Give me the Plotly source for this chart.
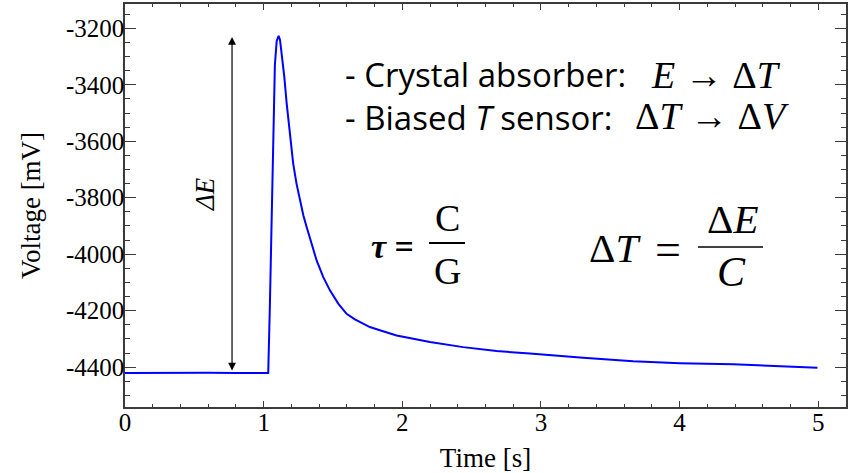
import plotly.graph_objects as go

# ---- data ----
time_s = [0.0, 0.2, 0.4, 0.6, 0.8, 1.0, 1.033, 1.045, 1.058, 1.069, 1.081, 1.094, 1.108,
          1.118, 1.130, 1.149, 1.166, 1.190, 1.213, 1.237, 1.262, 1.286, 1.310, 1.346,
          1.382, 1.430, 1.478, 1.538, 1.598, 1.658, 1.718, 1.766, 1.838, 1.959, 2.079,
          2.199, 2.439, 2.680, 2.920, 3.160, 3.304, 3.665, 4.001, 4.386, 4.746, 4.994]
voltage_mv = [-4421, -4420, -4421, -4420, -4421, -4421, -4421, -4180, -3900, -3600, -3330, -3245, -3227,
              -3241, -3289, -3372, -3466, -3584, -3679, -3750, -3809, -3862, -3904, -3962,
              -4022, -4081, -4128, -4175, -4211, -4231, -4246, -4258, -4269, -4288, -4299,
              -4311, -4329, -4343, -4352, -4362, -4367, -4379, -4386, -4390, -4397, -4402]

y_ticks = [-3200, -3400, -3600, -3800, -4000, -4200, -4400]
y_tick_text = ["-3200", "-3400", "-3600", "-3800", "-4000", "-4200", "-4400"]
x_ticks = [0, 1, 2, 3, 4, 5]
x_tick_text = ["0", "1", "2", "3", "4", "5"]

arrow_t = 0.772
arrow_bottom = -4417
arrow_top = -3231

W, H = 848, 473
L, R, T, B = 125, 2, 4, 66
PW, PH = W - L - R, H - T - B

def px(x):
    return (x - L) / PW

def py(y):
    return (H - B - y) / PH

SERIF = "Liberation Serif"
SANS = "Open Sans"
AX = "#3a3a3a"
NB = "\u00a0"

fig = go.Figure()
fig.add_trace(go.Scatter(x=time_s, y=voltage_mv, mode="lines",
                         line=dict(color="#0000ff", width=2), showlegend=False,
                         hoverinfo="skip"))

axis_common = dict(showline=True, linecolor=AX, linewidth=1.5, mirror="ticks",
                   ticks="inside", tickcolor=AX, showgrid=False, zeroline=False,
                   automargin=False,
                   tickfont=dict(family=SERIF, size=25, color="black"))

fig.update_xaxes(range=[0, 5.2], tickvals=x_ticks, ticktext=x_tick_text, ticklen=6, tickwidth=1.2,
                 ticklabelstandoff=-8,
                 minor=dict(dtick=0.2, ticks="inside", ticklen=3, tickcolor=AX, tickwidth=1),
                 title=dict(text="Time [s]", font=dict(family=SERIF, size=27, color="black"), standoff=14),
                 **axis_common)
fig.update_yaxes(range=[-4541, -3114], tickvals=y_ticks, ticktext=y_tick_text, ticklen=11, tickwidth=1.2,
                 ticklabelstandoff=-6,
                 minor=dict(dtick=50, ticks="inside", ticklen=5, tickcolor=AX, tickwidth=1),
                 title=dict(text="Voltage [mV]", font=dict(family=SERIF, size=27, color="black"), standoff=17),
                 **axis_common)

ann = []
# Delta E arrow
ann.append(dict(x=arrow_t, y=arrow_top, ax=arrow_t, ay=arrow_bottom, xref="x", yref="y",
                axref="x", ayref="y", text="", showarrow=True, arrowhead=2, startarrowhead=2,
                arrowside="end+start", arrowwidth=1.2, arrowsize=1.3, startarrowsize=1.3,
                arrowcolor="black", standoff=0, startstandoff=0))
ann.append(dict(x=px(205), y=py(194), xref="paper", yref="paper", xanchor="center", yanchor="middle",
                text="<i>ΔE</i>", textangle=-90, showarrow=False,
                font=dict(family=SERIF, size=27, color="black")))

# text lines (one block, two lines)
ann.append(dict(x=px(343), y=py(96), xref="paper", yref="paper", xanchor="left", yanchor="middle",
                align="left", text="- Crystal absorber:<br>- Biased <i>T</i> sensor:", showarrow=False,
                font=dict(family=SANS, size=33, color="black")))
ann.append(dict(x=px(649), y=py(75), xref="paper", yref="paper", xanchor="left", yanchor="middle",
                text="<i>E</i>" + NB + "→" + NB + "Δ<i>T</i>", showarrow=False,
                font=dict(family=SERIF, size=38, color="black")))
ann.append(dict(x=px(633), y=py(116), xref="paper", yref="paper", xanchor="left", yanchor="middle",
                text="Δ<i>T</i>" + NB + "→" + NB + "Δ<i>V</i>", showarrow=False,
                font=dict(family=SERIF, size=38, color="black")))

# tau = C / G
ann.append(dict(x=px(392), y=py(246), xref="paper", yref="paper", xanchor="center", yanchor="middle",
                text="<b><i>τ</i> =</b>", showarrow=False, font=dict(family=SERIF, size=34, color="black")))
ann.append(dict(x=px(447), y=py(218), xref="paper", yref="paper", xanchor="center", yanchor="middle",
                text="C", showarrow=False, font=dict(family=SERIF, size=38, color="black")))
ann.append(dict(x=px(447), y=py(271), xref="paper", yref="paper", xanchor="center", yanchor="middle",
                text="G", showarrow=False, font=dict(family=SERIF, size=38, color="black")))

# Delta T = Delta E / C
ann.append(dict(x=px(615), y=py(248), xref="paper", yref="paper", xanchor="center", yanchor="middle",
                text="Δ<i>T</i>", showarrow=False, font=dict(family=SERIF, size=41, color="black")))
ann.append(dict(x=px(668), y=py(249), xref="paper", yref="paper", xanchor="center", yanchor="middle",
                text="=", showarrow=False, font=dict(family=SERIF, size=46, color="black")))
ann.append(dict(x=px(732), y=py(219), xref="paper", yref="paper", xanchor="center", yanchor="middle",
                text="Δ<i>E</i>", showarrow=False, font=dict(family=SERIF, size=41, color="black")))
ann.append(dict(x=px(731), y=py(272), xref="paper", yref="paper", xanchor="center", yanchor="middle",
                text="<i>C</i>", showarrow=False, font=dict(family=SERIF, size=42, color="black")))

shapes = [
    dict(type="line", xref="paper", yref="paper", x0=px(429), x1=px(465), y0=py(243), y1=py(243),
         line=dict(color="black", width=2)),
    dict(type="line", xref="paper", yref="paper", x0=px(698), x1=px(763), y0=py(247), y1=py(247),
         line=dict(color="black", width=1.5)),
]

fig.update_layout(width=W, height=H, margin=dict(l=L, r=R, t=T, b=B),
                  paper_bgcolor="white", plot_bgcolor="white",
                  annotations=ann, shapes=shapes, showlegend=False)

fig.write_html("out.html", config={"displayModeBar": False},
               post_script="document.body.style.margin='0px';document.body.style.overflow='hidden';")
